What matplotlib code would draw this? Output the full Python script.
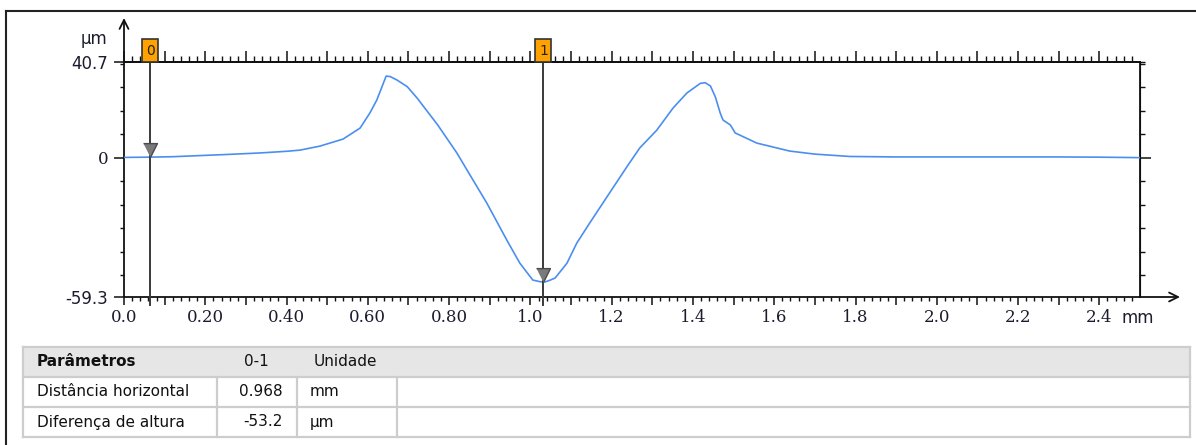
import matplotlib
matplotlib.use("Agg")
import matplotlib.pyplot as plt
import numpy as np
from matplotlib.patches import Rectangle
from matplotlib.lines import Line2D
import matplotlib.transforms as mtransforms
from matplotlib.ticker import FixedLocator, FixedFormatter

# ---------------- data ----------------
profile_x_mm = [0.0, 0.06, 0.12, 0.19, 0.26, 0.335, 0.40, 0.433, 0.482, 0.539,
                0.581, 0.605, 0.622, 0.645, 0.655, 0.672, 0.697, 0.721, 0.772, 0.819,
                0.859, 0.893, 0.942, 0.974, 1.006, 1.024, 1.036, 1.049, 1.061, 1.090,
                1.114, 1.146, 1.188, 1.237, 1.269, 1.311, 1.351, 1.385, 1.418, 1.430,
                1.443, 1.455, 1.467, 1.474, 1.492, 1.504, 1.557, 1.638, 1.70, 1.786,
                1.90, 2.00, 2.155, 2.30, 2.40, 2.50]
profile_y_um = [0.1, 0.2, 0.4, 0.9, 1.4, 2.0, 2.7, 3.2, 4.9, 7.9,
                12.6, 19.0, 24.5, 34.7, 34.5, 33.0, 30.2, 25.4, 13.9, 2.0,
                -9.6, -19.4, -35.1, -44.9, -52.1, -52.8, -52.9, -52.1, -51.2, -44.9,
                -36.4, -27.8, -16.8, -4.0, 4.1, 11.7, 21.1, 27.5, 31.6, 31.9,
                30.5, 25.9, 19.0, 16.0, 13.9, 10.5, 6.2, 2.8, 1.5, 0.5,
                0.3, 0.3, 0.3, 0.3, 0.2, 0.0]

cursor_ids = ["0", "1"]
cursor_x_mm = [0.064, 1.032]
cursor_y_um = [0.2, -53.0]

x_min, x_max = 0.0, 2.5
y_min, y_max = -59.3, 40.7
x_major_ticks = [round(0.1 * i, 2) for i in range(25)]
x_tick_labels = ['0.0', '', '0.20', '', '0.40', '', '0.60', '', '0.80', '', '1.0', '',
                 '1.2', '', '1.4', '', '1.6', '', '1.8', '', '2.0', '', '2.2', '', '2.4']
x_minor_ticks = [round(0.02 * i, 2) for i in range(125)]
y_major_ticks = [-59.3, 0, 40.7]
y_major_labels = ['-59.3', '0', '40.7']
y_minor_ticks = [-50, -40, -30, -20, -10, 10, 20, 30, 40]

table_header = ["Parâmetros", "0-1", "Unidade"]
table_params = ["Distância horizontal", "Diferença de altura"]
table_values = ["0.968", "-53.2"]
table_units = ["mm", "µm"]

# ---------------- figure ----------------
W, H = 1196, 445
fig = plt.figure(figsize=(W / 100, H / 100), dpi=100)
fig.patch.set_facecolor('white')

# pixel overlay for frame + table
ov = fig.add_axes([0, 0, 1, 1], zorder=0)
ov.set_xlim(0, W)
ov.set_ylim(H, 0)
ov.axis('off')

ax_l, ax_r, ax_t, ax_b = 124, 1140, 62, 297
ax = fig.add_axes([ax_l / W, 1 - ax_b / H, (ax_r - ax_l) / W, (ax_b - ax_t) / H], zorder=2)
ax.set_facecolor('none')
ax.set_xlim(x_min, x_max)
ax.set_ylim(y_min, y_max)

for s in ax.spines.values():
    s.set_linewidth(1.3)
    s.set_color('#111111')

label_color = '#1c1c2e'

# profile
ax.plot(profile_x_mm, profile_y_um, color='#4a8ff0', lw=1.2, zorder=3)

# bottom x ticks
ax.xaxis.set_major_locator(FixedLocator(x_major_ticks))
ax.xaxis.set_major_formatter(FixedFormatter(x_tick_labels))
ax.xaxis.set_minor_locator(FixedLocator(x_minor_ticks))
ax.tick_params(axis='x', which='major', direction='out', length=6, width=1.1,
               colors='#111111', labelcolor=label_color, pad=3, labelsize=12)
ax.tick_params(axis='x', which='minor', direction='out', length=3, width=1.0, colors='#111111')
for lab in ax.get_xticklabels():
    lab.set_family('DejaVu Serif')

# top x ticks
top = ax.secondary_xaxis('top')
top.xaxis.set_major_locator(FixedLocator(x_major_ticks))
top.xaxis.set_minor_locator(FixedLocator(x_minor_ticks))
top.tick_params(axis='x', which='major', direction='out', length=8, width=1.1,
                colors='#111111', labeltop=False)
top.tick_params(axis='x', which='minor', direction='out', length=4, width=1.0, colors='#111111')
top.set_xticklabels([])
top.spines['top'].set_linewidth(1.3)

# left y ticks
ax.yaxis.set_major_locator(FixedLocator(y_major_ticks))
ax.yaxis.set_major_formatter(FixedFormatter(y_major_labels))
ax.yaxis.set_minor_locator(FixedLocator(y_minor_ticks))
ax.tick_params(axis='y', which='major', direction='out', length=7.5, width=1.1,
               colors='#111111', labelcolor=label_color, pad=4, labelsize=12)
ax.tick_params(axis='y', which='minor', direction='out', length=3, width=1.0, colors='#111111')
for lab in ax.get_yticklabels():
    lab.set_family('DejaVu Serif' if lab.get_text() == '0' else 'DejaVu Sans')

# right y ticks
rt = ax.secondary_yaxis('right')
rt.yaxis.set_major_locator(FixedLocator([0]))
rt.yaxis.set_minor_locator(FixedLocator(y_minor_ticks + [40.7]))
rt.tick_params(axis='y', which='major', direction='out', length=8, width=1.1,
               colors='#111111', labelright=False)
rt.tick_params(axis='y', which='minor', direction='out', length=3.6, width=1.0, colors='#111111')
rt.set_yticklabels([])

# axis arrows
ax.annotate('', xy=(0, 1 + 44 / 235), xycoords=('data', 'axes fraction'),
            xytext=(0, 1), textcoords=('data', 'axes fraction'),
            arrowprops=dict(arrowstyle='->', lw=1.3, color='#111111', mutation_scale=16,
                            shrinkA=0, shrinkB=0), annotation_clip=False)
ax.annotate('', xy=(1 + 40 / 1016, 0), xycoords='axes fraction',
            xytext=(1, 0), textcoords='axes fraction',
            arrowprops=dict(arrowstyle='->', lw=1.3, color='#111111', mutation_scale=16,
                            shrinkA=0, shrinkB=0), annotation_clip=False)

# unit labels
ax.text(-17 / 1016, 1 + 23 / 235, 'µm', transform=ax.transAxes, ha='right', va='center',
        fontsize=12, color=label_color, family='DejaVu Sans')
ax.text(2.455, -21 / 235, 'mm', transform=mtransforms.blended_transform_factory(ax.transData, ax.transAxes),
        ha='left', va='center', fontsize=12, color=label_color, family='DejaVu Sans')

# cursors
blend = mtransforms.blended_transform_factory(ax.transData, ax.transAxes)
px_per_mm = (ax_r - ax_l) / (x_max - x_min)
box_w = 16 / px_per_mm
tri = [(-0.5, 1.0), (0.5, 1.0), (0.0, 0.0)]
for cid, cx, cy in zip(cursor_ids, cursor_x_mm, cursor_y_um):
    ax.plot([cx, cx], [0, 1 + 0 / 235], transform=blend, color='#3a3a3a', lw=1.4,
            clip_on=False, zorder=4)
    ax.plot([cx, cx], [-8 / 235, 0], transform=blend, color='#3a3a3a', lw=1.4,
            clip_on=False, zorder=4)
    ax.add_patch(Rectangle((cx - box_w / 2, 1.0), box_w, 23 / 235, transform=blend,
                           facecolor='#ffa200', edgecolor='#333333', lw=1.2,
                           clip_on=False, zorder=5))
    ax.text(cx, 1 + 11.5 / 235, cid, transform=blend, ha='center', va='center',
            fontsize=10, color='#222222', zorder=6, family='DejaVu Sans')
    ax.plot([cx], [cy], marker=tri, markersize=20, markerfacecolor='#7a7a7a',
            markeredgecolor='#4a4a4a', markeredgewidth=1.0, linestyle='none',
            zorder=6, clip_on=False)

# outer frame
ov.add_line(Line2D([6, W], [11, 11], color='#222222', lw=1.5))
ov.add_line(Line2D([6, 6], [11, H], color='#222222', lw=1.5))

# table
tl, tr = 23, 1190
rows_y = [347, 377, 407, 437]
ov.add_patch(Rectangle((tl, rows_y[0]), tr - tl, rows_y[1] - rows_y[0],
                       facecolor='#e6e6e6', edgecolor='none'))
gc = '#cdcdcd'
for yy in rows_y:
    ov.add_line(Line2D([tl, tr], [yy, yy], color=gc, lw=1.6))
for xx in (tl, tr):
    ov.add_line(Line2D([xx, xx], [rows_y[0], rows_y[-1]], color=gc, lw=1.6))
for xx in (217, 297, 397):
    ov.add_line(Line2D([xx, xx], [rows_y[1], rows_y[-1]], color=gc, lw=1.6))

fs = 11
txt_c = '#111111'
hy = (rows_y[0] + rows_y[1]) / 2
ov.text(37, hy, table_header[0], fontsize=fs, fontweight='bold', ha='left', va='center',
        color=txt_c, family='DejaVu Sans')
ov.text(256, hy, table_header[1], fontsize=fs, ha='center', va='center', color=txt_c,
        family='DejaVu Sans')
ov.text(314, hy, table_header[2], fontsize=fs, ha='left', va='center', color=txt_c,
        family='DejaVu Sans')
for i, (p, v, u) in enumerate(zip(table_params, table_values, table_units)):
    yy = (rows_y[i + 1] + rows_y[i + 2]) / 2
    ov.text(37, yy, p, fontsize=fs, ha='left', va='center', color=txt_c, family='DejaVu Sans')
    ov.text(283, yy, v, fontsize=fs, ha='right', va='center', color=txt_c, family='DejaVu Sans')
    ov.text(310, yy, u, fontsize=fs, ha='left', va='center', color=txt_c, family='DejaVu Sans')

fig.savefig('out.png', dpi=100)
